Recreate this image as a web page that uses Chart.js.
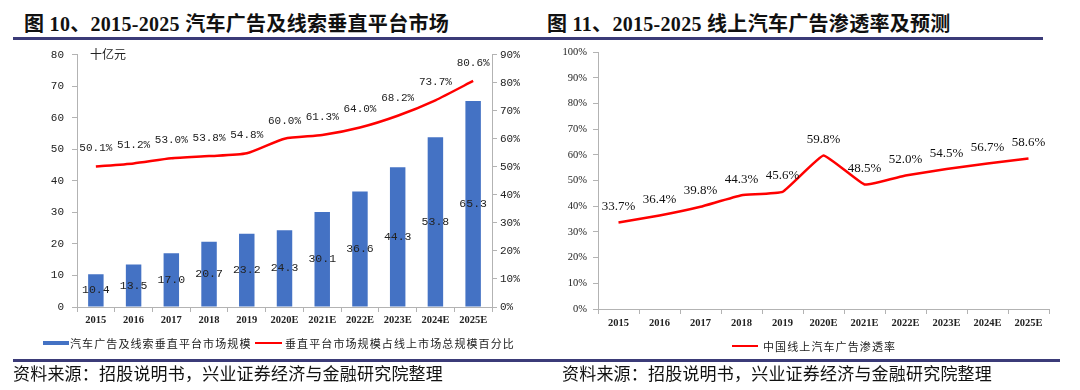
<!DOCTYPE html>
<html>
<head>
<meta charset="utf-8">
<script src="https://cdn.jsdelivr.net/npm/chart.js@4.4.1/dist/chart.umd.min.js"></script>
<style>
  body { margin: 0; width: 1080px; height: 390px; background: #fff; position: relative; overflow: hidden; }
  .abs { position: absolute; white-space: nowrap; }
  .title { font-family: "Liberation Serif", "Noto Sans CJK SC", serif; font-weight: bold; font-size: 20px; letter-spacing: 0.3px; color: #111; line-height: 24px; }
  .rule { position: absolute; height: 3px; background: #3b3b78; }
  .src { font-family: "Noto Sans CJK SC", sans-serif; font-size: 17px; letter-spacing: 0.2px; color: #111; line-height: 20px; }
  .leg { font-family: "Noto Sans CJK SC", sans-serif; font-size: 11px; letter-spacing: 1.1px; color: #222; line-height: 14px; }
  .unit { font-family: "Noto Sans CJK SC", sans-serif; font-size: 12px; color: #222; line-height: 14px; }
  canvas { position: absolute; }
</style>
</head>
<body>
<div class="abs title" style="left:24px; top:12px;">图 10、2015-2025 汽车广告及线索垂直平台市场</div>
<div class="abs title" style="left:547px; top:12px;">图 11、2015-2025 线上汽车广告渗透率及预测</div>
<div class="rule" style="left:13px; top:37px; width:1030px;"></div>

<canvas id="leftChart" width="540" height="300" style="left:0; top:40px;"></canvas>
<canvas id="rightChart" width="540" height="300" style="left:540px; top:40px;"></canvas>

<div class="abs unit" style="left:90px; top:47px;">十亿元</div>

<!-- legends -->
<div class="abs" style="left:43px; top:341px; width:26px; height:4px; background:#4472C4;"></div>
<div class="abs leg" style="left:70px; top:336px;">汽车广告及线索垂直平台市场规模</div>
<div class="abs" style="left:255px; top:342px; width:27px; height:2px; background:#FF0000;"></div>
<div class="abs leg" style="left:285px; top:336px;">垂直平台市场规模占线上市场总规模百分比</div>
<div class="abs" style="left:732px; top:345px; width:26px; height:2px; background:#FF0000;"></div>
<div class="abs leg" style="left:763px; top:339px;">中国线上汽车广告渗透率</div>

<div class="rule" style="left:13px; top:359px; width:1047px;"></div>
<div class="abs src" style="left:13px; top:363px;">资料来源：招股说明书，兴业证券经济与金融研究院整理</div>
<div class="abs src" style="left:562px; top:363px;">资料来源：招股说明书，兴业证券经济与金融研究院整理</div>

<script>
// --- Data ---
const years = ['2015', '2016', '2017', '2018', '2019', '2020E', '2021E', '2022E', '2023E', '2024E', '2025E'];
const platformSize = [10.4, 13.5, 17.0, 20.7, 23.2, 24.3, 30.1, 36.6, 44.3, 53.8, 65.3];      // 十亿元
const platformShare = [50.1, 51.2, 53.0, 53.8, 54.8, 60.0, 61.3, 64.0, 68.2, 73.7, 80.6];     // %
const onlinePenetration = [33.7, 36.4, 39.8, 44.3, 45.6, 59.8, 48.5, 52.0, 54.5, 56.7, 58.6]; // %

// --- Styles ---
const axisGray = '#b3b3b3';
const tickColor = '#222';
const monoFont = { family: 'Liberation Mono', size: 11 };
const serifBold = { family: 'Liberation Serif', size: 10.5, weight: 'bold' };

// draws the value labels (Excel style data labels)
const valueLabels = {
    id: 'valueLabels',
    afterDatasetsDraw(chart) {
        const ctx = chart.ctx;
        chart.data.datasets.forEach((ds, i) => {
            const lbl = ds.valueLabel;
            if (!lbl) return;
            const meta = chart.getDatasetMeta(i);
            ctx.save();
            ctx.font = lbl.font;
            ctx.fillStyle = lbl.color;
            ctx.textAlign = 'center';
            ctx.textBaseline = 'middle';
            meta.data.forEach((el, j) => {
                const y = lbl.pos === 'center' ? (el.y + el.base) / 2 : el.y - lbl.offset;
                ctx.fillText(lbl.format(ds.data[j]), el.x, y);
            });
            ctx.restore();
        });
    }
};

Chart.defaults.animation = false;
Chart.defaults.responsive = false;
Chart.defaults.devicePixelRatio = 1;

// --- Left chart: market size + share ---
new Chart(document.getElementById('leftChart'), {
    type: 'bar',
    data: {
        labels: years,
        datasets: [{
            type: 'line',
            label: '垂直平台市场规模占线上市场总规模百分比',
            data: platformShare,
            yAxisID: 'y1',
            borderColor: '#FF0000',
            borderWidth: 2.5,
            pointRadius: 0,
            tension: 0.2,
            order: 0,
            valueLabel: { font: '11px "Liberation Mono"', color: '#222', offset: 18, format: v => v.toFixed(1) + '%' }
        }, {
            label: '汽车广告及线索垂直平台市场规模',
            data: platformSize,
            yAxisID: 'y',
            backgroundColor: '#4472C4',
            categoryPercentage: 1,
            barPercentage: 0.41,
            order: 1,
            valueLabel: { font: '11.5px "Liberation Mono"', color: '#222', pos: 'center', format: v => v.toFixed(1) }
        }]
    },
    options: {
        layout: { padding: { top: 9, left: 0, right: 0, bottom: 0 } },
        plugins: { legend: { display: false }, tooltip: { enabled: false } },
        scales: {
            x: {
                offset: true,
                grid: { offset: true, drawOnChartArea: false, tickLength: 5, color: axisGray },
                border: { color: axisGray },
                ticks: { font: serifBold, color: tickColor, padding: 2, maxRotation: 0, autoSkip: false },
                afterFit: s => { s.height = 33; }
            },
            y: {
                position: 'left',
                min: 0, max: 80,
                grid: { drawOnChartArea: false, tickLength: 5, color: axisGray },
                border: { color: axisGray },
                ticks: { stepSize: 10, font: monoFont, color: tickColor, padding: 8 },
                afterFit: s => { s.width = 77; }
            },
            y1: {
                position: 'right',
                min: 0, max: 90,
                grid: { drawOnChartArea: false, tickLength: 5, color: axisGray },
                border: { color: axisGray },
                ticks: { stepSize: 10, font: monoFont, color: tickColor, padding: 3, callback: v => v + '%' },
                afterFit: s => { s.width = 48; }
            }
        }
    },
    plugins: [valueLabels]
});

// --- Right chart: online penetration ---
new Chart(document.getElementById('rightChart'), {
    type: 'line',
    data: {
        labels: years,
        datasets: [{
            label: '中国线上汽车广告渗透率',
            data: onlinePenetration,
            borderColor: '#FF0000',
            borderWidth: 2.5,
            pointRadius: 0,
            tension: 0.1,
            valueLabel: { font: '13px "Liberation Serif"', color: '#111', offset: 16, format: v => v.toFixed(1) + '%' }
        }]
    },
    options: {
        layout: { padding: { top: 11, left: 0, right: 31, bottom: 0 } },
        plugins: { legend: { display: false }, tooltip: { enabled: false } },
        scales: {
            x: {
                offset: true,
                grid: { offset: true, drawOnChartArea: false, tickLength: 5, color: axisGray },
                border: { color: axisGray },
                ticks: { font: serifBold, color: tickColor, padding: 3, maxRotation: 0, autoSkip: false },
                afterFit: s => { s.height = 31; }
            },
            y: {
                min: 0, max: 100,
                grid: { drawOnChartArea: false, tickLength: 5, color: axisGray },
                border: { color: axisGray },
                ticks: { stepSize: 10, font: { family: 'Liberation Serif', size: 10.5 }, color: tickColor, padding: 6, callback: v => v + '%' },
                afterFit: s => { s.width = 58; }
            }
        }
    },
    plugins: [valueLabels]
});
</script>
</body>
</html>
